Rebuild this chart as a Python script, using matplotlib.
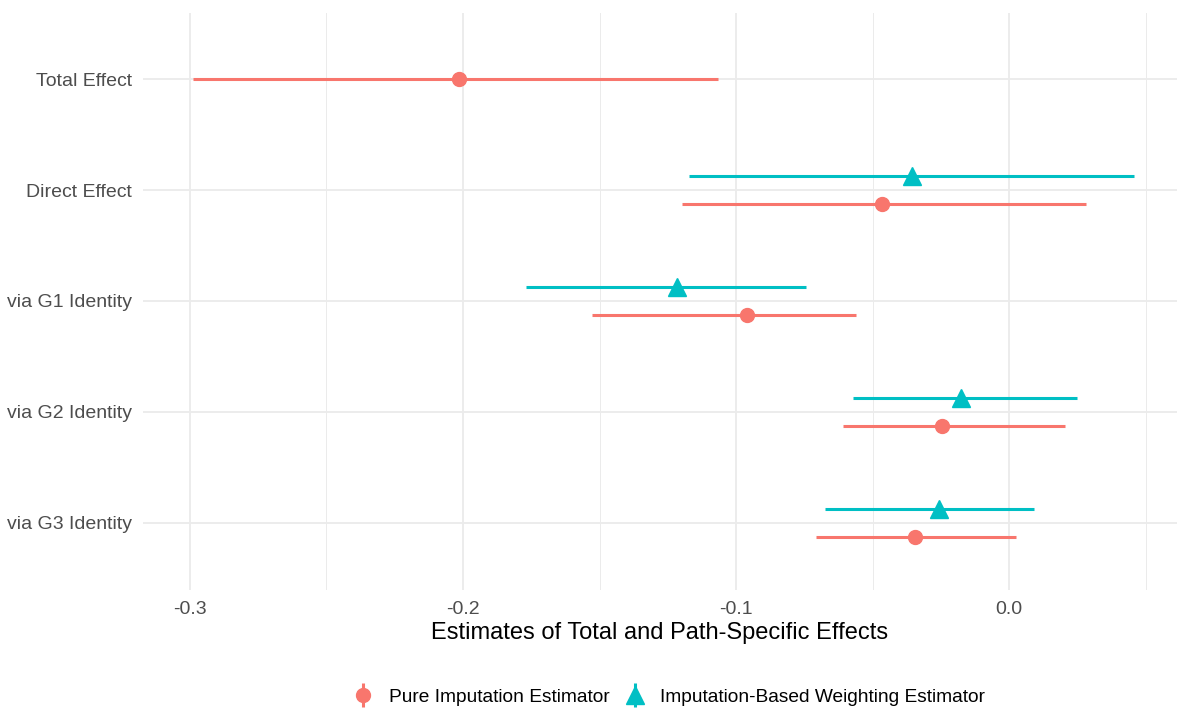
import numpy as np
import matplotlib.pyplot as plt
from matplotlib.lines import Line2D
from matplotlib.ticker import MultipleLocator

plt.rcParams['font.family'] = ['Liberation Sans', 'DejaVu Sans']

# Data
effects = ['Total Effect', 'Direct Effect', 'via G1 Identity', 'via G2 Identity', 'via G3 Identity']

pure_est = [-0.2013, -0.0465, -0.0961, -0.0245, -0.0346]
pure_lo = [-0.2990, -0.1199, -0.1528, -0.0610, -0.0706]
pure_hi = [-0.1065, 0.0283, -0.0561, 0.0203, 0.0027]

# weighting estimator has no total effect
wt_effects = ['Direct Effect', 'via G1 Identity', 'via G2 Identity', 'via G3 Identity']
wt_est = [-0.0354, -0.1217, -0.0177, -0.0258]
wt_lo = [-0.1174, -0.1768, -0.0570, -0.0676]
wt_hi = [0.0457, -0.0744, 0.0249, 0.0092]

pink = '#F8766D'
teal = '#00BFC4'

fig = plt.figure(figsize=(11.77, 7.11), dpi=100)
ax = fig.add_axes([143 / 1177, 1 - 589.5 / 711, (1177 - 143) / 1177, (589.5 - 12.5) / 711])

# y positions: first category on top
ypos = {name: len(effects) - i for i, name in enumerate(effects)}
dodge = 0.126

# pure imputation: dodged down except when alone (total effect)
for name, est, lo, hi in zip(effects, pure_est, pure_lo, pure_hi):
    y = ypos[name] - (dodge if name in wt_effects else 0)
    ax.hlines(y, lo, hi, color=pink, lw=2.2, zorder=3)
    ax.plot(est, y, 'o', color=pink, ms=10, zorder=4)

for name, est, lo, hi in zip(wt_effects, wt_est, wt_lo, wt_hi):
    y = ypos[name] + dodge
    ax.hlines(y, lo, hi, color=teal, lw=2.2, zorder=3)
    ax.plot(est, y, '^', color=teal, ms=12.5, zorder=4)

ax.set_xlim(-0.3172, 0.0615)
ax.set_ylim(0.4, 5.6)
ax.set_yticks([ypos[n] for n in effects])
ax.set_yticklabels(effects)
ax.xaxis.set_minor_locator(MultipleLocator(0.05))
ax.set_xticks([-0.3, -0.2, -0.1, 0.0])
ax.set_xticklabels(['-0.3', '-0.2', '-0.1', '0.0'])

ax.grid(True, which='major', color='#EBEBEB', lw=1.3)
ax.grid(True, which='minor', axis='x', color='#EBEBEB', lw=0.7)
ax.set_axisbelow(True)
for s in ax.spines.values():
    s.set_visible(False)
ax.tick_params(which='both', length=0, labelsize=14, labelcolor='#4D4D4D')
ax.tick_params(axis='x', pad=8.5)
ax.tick_params(axis='y', pad=8)

ax.set_xlabel('Estimates of Total and Path-Specific Effects', fontsize=17, labelpad=3)

# legend keys look like pointrange: vertical line plus marker
h_pure = (Line2D([], [], color=pink, marker='|', ms=17, mew=2.2, ls='none'),
          Line2D([], [], color=pink, marker='o', ms=10, ls='none'))
h_wt = (Line2D([], [], color=teal, marker='|', ms=17, mew=2.2, ls='none'),
        Line2D([], [], color=teal, marker='^', ms=12.5, ls='none'))
fig.legend([h_pure, h_wt], ['Pure Imputation Estimator', 'Imputation-Based Weighting Estimator'],
           loc='center', bbox_to_anchor=(0.568, 1 - 697 / 711), ncol=2, frameon=False,
           fontsize=13.8, handlelength=1.2, handletextpad=0.75, columnspacing=0.7)

fig.savefig('out.png', dpi=100, facecolor='white')
